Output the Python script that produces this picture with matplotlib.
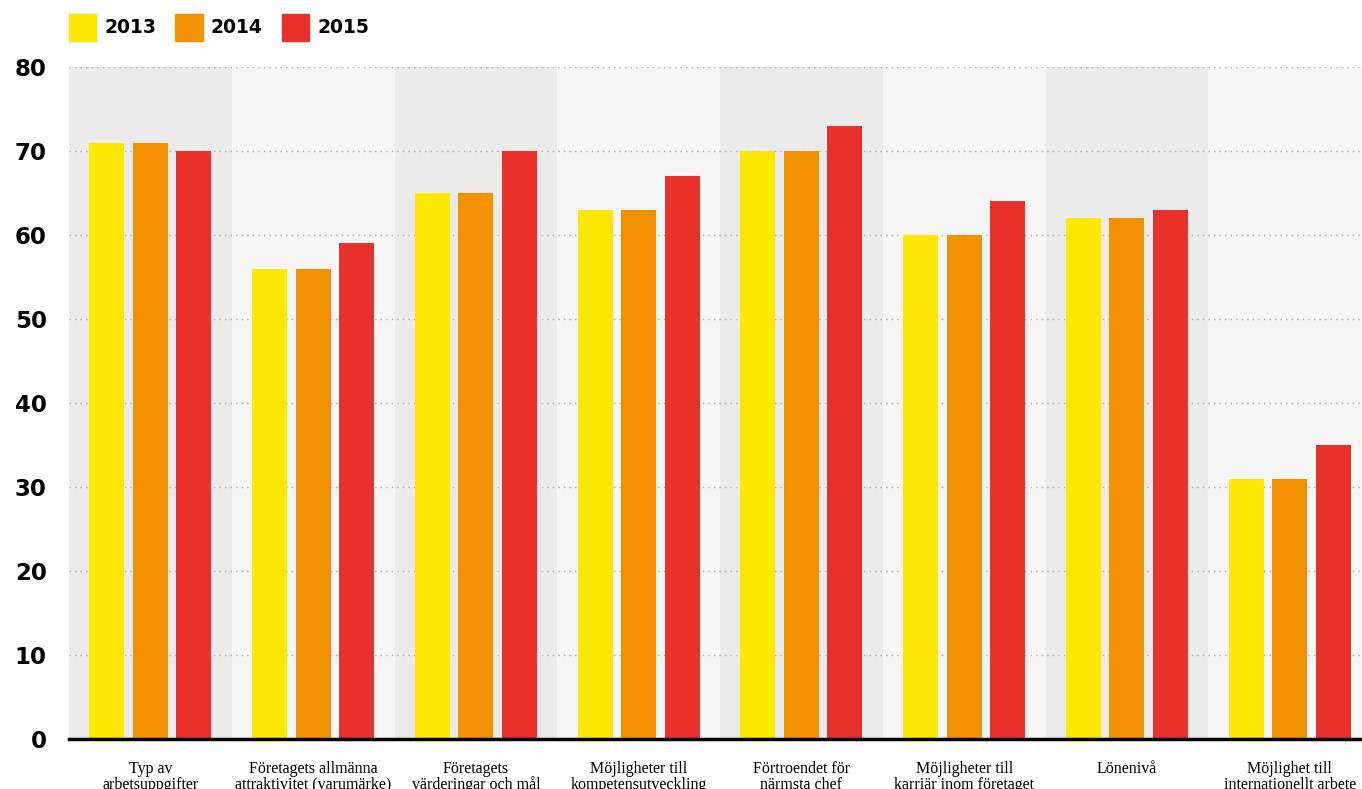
import numpy as np
import matplotlib
matplotlib.use("Agg")
import matplotlib.pyplot as plt
from matplotlib.patches import Patch

categories = ["Typ av\narbetsuppgifter",
              "Företagets allmänna\nattraktivitet (varumärke)",
              "Företagets\nvärderingar och mål",
              "Möjligheter till\nkompetensutveckling",
              "Förtroendet för\nnärmsta chef",
              "Möjligheter till\nkarriär inom företaget",
              "Lönenivå",
              "Möjlighet till\ninternationellt arbete"]
years = ["2013", "2014", "2015"]
v2013 = [71, 56, 65, 63, 70, 60, 62, 31]
v2014 = [71, 56, 65, 63, 70, 60, 62, 31]
v2015 = [70, 59, 70, 67, 73, 64, 63, 35]
yticks = [0, 10, 20, 30, 40, 50, 60, 70, 80]

COLORS = ["#fce800", "#f39200", "#e8312a"]
BANDS = ["#ebebeb", "#f5f5f5"]

fig = plt.figure(figsize=(13.62, 7.89), dpi=100)
ax = fig.add_axes([69 / 1362, 1 - 739 / 789, 1302 / 1362, 672 / 789])

x = np.arange(len(categories))
for i in x:
    ax.axvspan(i - 0.5, i + 0.5, color=BANDS[i % 2], zorder=0, lw=0)

for yv in yticks[1:]:
    ax.axhline(yv, color="#aaaaaa", ls=(0, (1, 3)), lw=1, zorder=1)

w, off = 0.215, 0.267
for k, (vals, col) in enumerate(zip([v2013, v2014, v2015], COLORS)):
    ax.bar(x + (k - 1) * off, vals, width=w, color=col, zorder=2, label=years[k])

ax.set_xlim(-0.5, len(categories) - 0.5)
ax.set_ylim(0, 80)
ax.set_yticks(yticks)
ax.set_yticklabels([str(v) for v in yticks], fontsize=16.5, fontweight="bold",
                   family="DejaVu Sans")
ax.set_xticks(x)
ax.set_xticklabels(categories, fontsize=11.5, family="Liberation Serif",
                   linespacing=0.95, va="top")
ax.tick_params(axis="y", length=0, pad=16)
ax.tick_params(axis="x", length=0, pad=16)
for s in ["top", "right", "left"]:
    ax.spines[s].set_visible(False)
ax.spines["bottom"].set_linewidth(2.5)
ax.spines["bottom"].set_color("black")
ax.spines["bottom"].set_zorder(3)

handles = [Patch(color=c, label=y) for c, y in zip(COLORS, years)]
fig.legend(handles=handles, loc="upper left", bbox_to_anchor=(69 / 1362, 1 - 14 / 789),
           ncol=3, frameon=False, borderpad=0, borderaxespad=0,
           handlelength=1.45, handleheight=1.8,
           handletextpad=0.45, columnspacing=1.0,
           prop=dict(family="DejaVu Sans", weight="bold", size=13.5))

fig.savefig("out.png", dpi=100)
